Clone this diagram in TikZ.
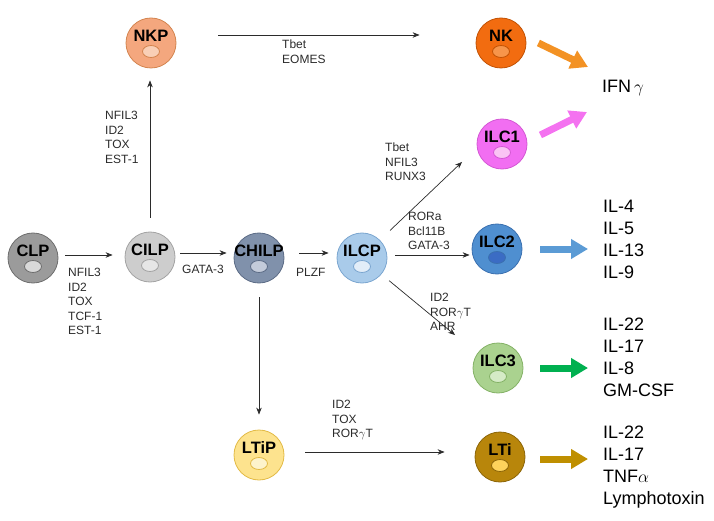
\documentclass[tikz,border=0pt]{standalone}
\usepackage{fontspec}
\setmainfont{Liberation Sans}
\usepackage{xcolor}
\usetikzlibrary{arrows.meta, positioning}

% cell colours: F fill, D rim, N nucleus
\definecolor{clpF}{HTML}{9B9B9B}\definecolor{clpD}{HTML}{6E6E6E}\definecolor{clpN}{HTML}{D9D9D9}
\definecolor{cilpF}{HTML}{CDCDCD}\definecolor{cilpD}{HTML}{A3A3A3}\definecolor{cilpN}{HTML}{E6E6E6}
\definecolor{chilpF}{HTML}{8091AB}\definecolor{chilpD}{HTML}{5C6C86}\definecolor{chilpN}{HTML}{C3CBDA}
\definecolor{ilcpF}{HTML}{A9CBEA}\definecolor{ilcpD}{HTML}{7BA6D0}\definecolor{ilcpN}{HTML}{E2EDF8}
\definecolor{nkpF}{HTML}{F4A77E}\definecolor{nkpD}{HTML}{D3844F}\definecolor{nkpN}{HTML}{F9CFB6}
\definecolor{nkF}{HTML}{F26C10}\definecolor{nkD}{HTML}{C25204}\definecolor{nkN}{HTML}{F7954A}
\definecolor{ilconeF}{HTML}{F26EF2}\definecolor{ilconeD}{HTML}{D457D4}\definecolor{ilconeN}{HTML}{FAC3F4}
\definecolor{ilctwoF}{HTML}{4F8FD0}\definecolor{ilctwoD}{HTML}{3A70B0}\definecolor{ilctwoN}{HTML}{3B6CC4}
\definecolor{ilcthreeF}{HTML}{AAD28F}\definecolor{ilcthreeD}{HTML}{84B266}\definecolor{ilcthreeN}{HTML}{D5EBC6}
\definecolor{ltipF}{HTML}{FDE38E}\definecolor{ltipD}{HTML}{E2BA45}\definecolor{ltipN}{HTML}{FDF3CB}
\definecolor{ltiF}{HTML}{B8860B}\definecolor{ltiD}{HTML}{8C6508}\definecolor{ltiN}{HTML}{FDD35C}
% output arrows
\definecolor{nkArrow}{HTML}{F39224}
\definecolor{oneArrow}{HTML}{F472F0}
\definecolor{twoArrow}{HTML}{5B9BD5}
\definecolor{threeArrow}{HTML}{00B050}
\definecolor{ltiArrow}{HTML}{BF8F00}
\definecolor{tfGrey}{HTML}{2B2B2B}

\tikzset{
  cell/.style={circle, minimum size=50pt, inner sep=0pt, line width=0.8pt},
  cellname/.style={font=\fontsize{16.5}{16.5}\selectfont\bfseries, inner sep=0pt},
  nucleus/.style={line width=0.8pt},
  tf/.style={font=\fontsize{12}{14.5}\selectfont, text=tfGrey, align=left,
             inner sep=0pt, anchor=north west},
  cytokine/.style={font=\fontsize{18}{22}\selectfont, align=left, inner sep=0pt,
             anchor=north west},
  route/.style={draw=tfGrey, line width=0.7pt, -{Stealth[length=7pt,width=5.5pt]}},
  secretion/.style={line width=7pt, -{Triangle[length=17pt,width=19pt]}},
}

\begin{document}
\begin{tikzpicture}[x=1pt, y=-1pt]
\useasboundingbox (0,0) rectangle (714,521);
%
\foreach \n/\t/\x/\y/\cc in {clp/CLP/33/258/clp, cilp/CILP/150/257/cilp,
    chilp/CHILP/259/258/chilp, ilcp/ILCP/362/258/ilcp, nkp/NKP/151/43/nkp,
    nk/NK/501/43/nk, ilc1/ILC1/502/144/ilcone, ilc2/ILC2/497/249/ilctwo,
    ilc3/ILC3/498/368/ilcthree, ltip/LTiP/259/455/ltip, lti/LTi/500/457/lti}
{
  \node[cell, fill=\cc F, draw=\cc D] (\n) at (\x,\y) {};
  \node[cellname] (\n-name) at ([yshift=7pt]\n.center) {\t};
  \draw[nucleus, fill=\cc N, draw=\cc D] ([yshift=-8.5pt]\n.center) ellipse (8.5pt and 6pt);
}
%
\node[tf] (tfCilp) at (68,268) {NFIL3\\ID2\\TOX\\TCF-1\\EST-1};
\node[tf] (tfChilp) at (182,265) {GATA-3};
\node[tf] (tfNkp) at (105,111) {NFIL3\\ID2\\TOX\\EST-1};
\node[tf] (tfNk) at (282,40) {Tbet\\EOMES};
\node[tf] (tfIlcp) at (296,268) {PLZF};
\node[tf] (tfIlcone) at (385,143) {Tbet\\NFIL3\\RUNX3};
\node[tf] (tfIlctwo) at (408,212) {RORa\\Bcl11B\\GATA-3};
\node[tf] (tfIlcthree) at (430,293) {ID2\\ROR$\gamma$T\\AHR};
\node[tf] (tfLti) at (332,400) {ID2\\TOX\\ROR$\gamma$T};
%
\node[cytokine, anchor=west] (ifn) at (602,88) {IFN\,$\gamma$};
\node[cytokine] (twoOut) at (603,200) {IL-4\\IL-5\\IL-13\\IL-9};
\node[cytokine] (threeOut) at (603,318) {IL-22\\IL-17\\IL-8\\GM-CSF};
\node[cytokine] (ltiOut) at (603,426) {IL-22\\IL-17\\TNF$\alpha$\\Lymphotoxin};
%
\draw[route, shorten <=7pt, shorten >=12pt] ([yshift=3pt]clp.east) -- ([yshift=3pt]clp.east -| cilp.west);
\draw[route, shorten <=5pt, shorten >=7pt] ([yshift=4pt]cilp.east) -- ([yshift=4pt]cilp.east -| chilp.west);
\draw[route, shorten <=14pt, shorten >=12pt] (cilp.north) -- (cilp.north |- nkp.south);
\draw[route, shorten <=42pt, shorten >=56pt] ([yshift=8pt]nkp.east) -- ([yshift=8pt]nkp.east -| nk.west);
\draw[route, shorten <=15pt, shorten >=8pt] ([yshift=5pt]chilp.east) -- ([yshift=5pt]chilp.east -| ilcp.west);
\draw[route, shorten <=14pt, shorten >=15pt] (chilp.south) -- (chilp.south |- ltip.north);
\draw[route, shorten <=21pt, shorten >=30pt] ([yshift=3pt]ltip.east) -- ([yshift=3pt]ltip.east -| lti.west);
\draw[route, shorten <=8pt, shorten >=2pt] ([yshift=3pt]ilcp.east) -- ([yshift=3pt]ilcp.east -| ilc2.west);
\draw[route, shorten <=14pt] (ilcp.45) -- ([xshift=-22pt]ilc1.south west);
\draw[route, shorten <=10pt] (ilcp.-40) -- ([xshift=-25pt,yshift=15pt]ilc3.north west);
%
\draw[secretion, color=nkArrow] ([xshift=12pt]nk.east) -- ([xshift=-14pt,yshift=21pt]ifn.west);
\draw[secretion, color=oneArrow] ([xshift=13pt,yshift=9pt]ilc1.east) -- ([xshift=-15pt,yshift=-24pt]ifn.west);
\draw[secretion, color=twoArrow, shorten >=15pt] ([xshift=18pt]ilc2.east) -- (ilc2.east -| twoOut.west);
\draw[secretion, color=threeArrow, shorten >=15pt] ([xshift=17pt]ilc3.east) -- (ilc3.east -| threeOut.west);
\draw[secretion, color=ltiArrow, shorten >=15pt] ([xshift=15pt,yshift=-2pt]lti.east) -- ([yshift=-2pt]lti.east -| ltiOut.west);
%
\end{tikzpicture}
\end{document}
